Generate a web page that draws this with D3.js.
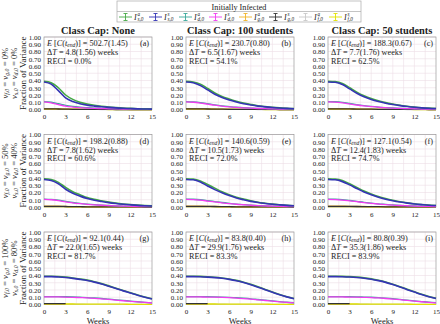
<!DOCTYPE html>
<html>
<head>
<meta charset="utf-8">
<script src="https://cdn.jsdelivr.net/npm/d3@7"></script>
<style>
  body { margin: 0; background: #fff; }
  svg text { font-family: "Liberation Serif", "DejaVu Serif", serif; fill: #222; }
</style>
</head>
<body>
<div id="chart"></div>
<script>
// weeks on the x axis
const weeks = [0, 1, 2, 3, 4, 5, 6, 7, 8, 9, 10, 11, 12, 13, 14, 15];
const xTicks = [0, 3, 6, 9, 12, 15];
const yTicks = [0, 0.1, 0.2, 0.3, 0.4, 0.5, 0.6, 0.7, 0.8, 0.9, 1.0];

const colTitles = ["Class Cap: None", "Class Cap: 100 students", "Class Cap: 50 students"];
const rowVf = ["0%", "50%", "100%"];
const rowVs = ["0%", "40%", "80%"];
const panelLetters = ["(a)", "(b)", "(c)", "(d)", "(e)", "(f)", "(g)", "(h)", "(i)"];
const expectedCases = ["502.7(1.45)", "230.7(0.80)", "188.3(0.67)", "198.2(0.88)", "140.6(0.59)", "127.1(0.54)", "92.1(0.44)", "83.8(0.40)", "80.8(0.39)"];
const deltaT = ["4.8(1.56)", "6.5(1.67)", "7.7(1.76)", "7.8(1.62)", "10.5(1.73)", "12.4(1.83)", "22.0(1.65)", "29.9(1.76)", "35.3(1.86)"];
const reci = ["0.0%", "54.1%", "62.5%", "60.6%", "72.0%", "74.7%", "81.7%", "83.3%", "83.9%"];

// series: one row per panel (a..i), one value per week
const seriesIas = [
  [0.39, 0.37, 0.30, 0.20, 0.14, 0.10, 0.075, 0.058, 0.045, 0.035, 0.027, 0.020, 0.015, 0.011, 0.008, 0.006],
  [0.39, 0.38, 0.35, 0.29, 0.23, 0.18, 0.145, 0.115, 0.09, 0.07, 0.052, 0.04, 0.03, 0.022, 0.016, 0.012],
  [0.39, 0.385, 0.36, 0.30, 0.24, 0.19, 0.15, 0.12, 0.095, 0.075, 0.058, 0.045, 0.034, 0.025, 0.019, 0.014],
  [0.39, 0.38, 0.34, 0.27, 0.21, 0.17, 0.13, 0.105, 0.085, 0.067, 0.053, 0.042, 0.033, 0.026, 0.02, 0.015],
  [0.39, 0.385, 0.36, 0.31, 0.26, 0.21, 0.17, 0.135, 0.11, 0.085, 0.066, 0.052, 0.04, 0.031, 0.024, 0.018],
  [0.39, 0.385, 0.365, 0.32, 0.27, 0.22, 0.18, 0.145, 0.117, 0.093, 0.073, 0.057, 0.045, 0.035, 0.027, 0.021],
  [0.39, 0.39, 0.386, 0.378, 0.366, 0.352, 0.336, 0.315, 0.288, 0.257, 0.225, 0.193, 0.162, 0.132, 0.104, 0.08],
  [0.39, 0.39, 0.388, 0.383, 0.376, 0.366, 0.352, 0.333, 0.308, 0.278, 0.244, 0.208, 0.172, 0.138, 0.108, 0.083],
  [0.39, 0.39, 0.388, 0.384, 0.377, 0.367, 0.353, 0.334, 0.31, 0.28, 0.246, 0.21, 0.175, 0.141, 0.11, 0.085],
];
const seriesIss = [
  [0.38, 0.35, 0.26, 0.16, 0.11, 0.08, 0.06, 0.047, 0.037, 0.029, 0.022, 0.017, 0.013, 0.009, 0.007, 0.005],
  [0.38, 0.37, 0.33, 0.27, 0.21, 0.165, 0.13, 0.103, 0.08, 0.062, 0.047, 0.036, 0.027, 0.02, 0.015, 0.011],
  [0.38, 0.375, 0.345, 0.285, 0.225, 0.175, 0.138, 0.11, 0.087, 0.068, 0.053, 0.041, 0.031, 0.023, 0.017, 0.013],
  [0.38, 0.365, 0.32, 0.245, 0.19, 0.15, 0.117, 0.094, 0.076, 0.06, 0.048, 0.038, 0.03, 0.023, 0.018, 0.014],
  [0.38, 0.375, 0.345, 0.29, 0.24, 0.195, 0.157, 0.125, 0.1, 0.078, 0.061, 0.048, 0.037, 0.029, 0.022, 0.017],
  [0.38, 0.375, 0.35, 0.305, 0.255, 0.207, 0.168, 0.135, 0.108, 0.086, 0.068, 0.053, 0.042, 0.033, 0.025, 0.02],
  [0.385, 0.385, 0.38, 0.372, 0.36, 0.346, 0.33, 0.309, 0.282, 0.251, 0.22, 0.188, 0.158, 0.128, 0.101, 0.077],
  [0.385, 0.385, 0.383, 0.378, 0.371, 0.361, 0.347, 0.328, 0.303, 0.273, 0.239, 0.203, 0.168, 0.134, 0.105, 0.08],
  [0.385, 0.385, 0.383, 0.379, 0.372, 0.362, 0.348, 0.329, 0.305, 0.275, 0.241, 0.205, 0.171, 0.137, 0.107, 0.082],
];
const seriesIad = [
  [0.11, 0.10, 0.08, 0.058, 0.043, 0.033, 0.026, 0.02, 0.016, 0.012, 0.01, 0.008, 0.006, 0.005, 0.004, 0.003],
  [0.11, 0.105, 0.095, 0.08, 0.064, 0.051, 0.041, 0.032, 0.025, 0.02, 0.015, 0.012, 0.009, 0.007, 0.005, 0.004],
  [0.11, 0.107, 0.098, 0.083, 0.067, 0.054, 0.043, 0.034, 0.027, 0.021, 0.016, 0.013, 0.01, 0.007, 0.006, 0.004],
  [0.11, 0.106, 0.095, 0.078, 0.062, 0.05, 0.04, 0.032, 0.026, 0.021, 0.016, 0.013, 0.01, 0.008, 0.006, 0.005],
  [0.11, 0.107, 0.1, 0.088, 0.075, 0.062, 0.051, 0.041, 0.033, 0.026, 0.02, 0.016, 0.012, 0.009, 0.007, 0.006],
  [0.11, 0.108, 0.102, 0.09, 0.078, 0.065, 0.054, 0.044, 0.036, 0.028, 0.022, 0.018, 0.014, 0.011, 0.008, 0.006],
  [0.11, 0.11, 0.109, 0.107, 0.104, 0.1, 0.096, 0.09, 0.083, 0.074, 0.065, 0.056, 0.047, 0.038, 0.03, 0.023],
  [0.11, 0.11, 0.109, 0.108, 0.106, 0.103, 0.099, 0.094, 0.087, 0.079, 0.069, 0.059, 0.049, 0.04, 0.031, 0.024],
  [0.11, 0.11, 0.109, 0.108, 0.106, 0.103, 0.1, 0.095, 0.088, 0.08, 0.07, 0.06, 0.05, 0.041, 0.032, 0.025],
];
const seriesIsd = [
  [0.105, 0.092, 0.068, 0.046, 0.034, 0.026, 0.02, 0.016, 0.013, 0.01, 0.008, 0.006, 0.005, 0.004, 0.003, 0.002],
  [0.105, 0.1, 0.089, 0.074, 0.059, 0.047, 0.037, 0.029, 0.023, 0.018, 0.014, 0.011, 0.008, 0.006, 0.005, 0.004],
  [0.105, 0.102, 0.092, 0.077, 0.062, 0.05, 0.04, 0.031, 0.025, 0.019, 0.015, 0.012, 0.009, 0.007, 0.005, 0.004],
  [0.105, 0.1, 0.088, 0.071, 0.057, 0.046, 0.037, 0.03, 0.024, 0.019, 0.015, 0.012, 0.009, 0.007, 0.006, 0.004],
  [0.105, 0.102, 0.094, 0.082, 0.07, 0.058, 0.047, 0.038, 0.031, 0.024, 0.019, 0.015, 0.011, 0.009, 0.007, 0.005],
  [0.105, 0.103, 0.096, 0.085, 0.073, 0.061, 0.05, 0.041, 0.033, 0.026, 0.021, 0.017, 0.013, 0.01, 0.008, 0.006],
  [0.105, 0.105, 0.104, 0.102, 0.099, 0.095, 0.091, 0.085, 0.078, 0.07, 0.061, 0.052, 0.044, 0.036, 0.028, 0.021],
  [0.105, 0.105, 0.104, 0.103, 0.101, 0.098, 0.094, 0.089, 0.082, 0.074, 0.065, 0.055, 0.046, 0.037, 0.029, 0.022],
  [0.105, 0.105, 0.104, 0.103, 0.101, 0.098, 0.095, 0.09, 0.083, 0.075, 0.066, 0.056, 0.047, 0.038, 0.03, 0.023],
];
const seriesIag = [
  [0.012, 0.011, 0.009, 0.006, 0.004, 0.003, 0.002, 0.002, 0.001, 0.001, 0.001, 0.001, 0.0, 0.0, 0.0, 0.0],
  [0.012, 0.012, 0.011, 0.009, 0.007, 0.005, 0.004, 0.003, 0.002, 0.002, 0.001, 0.001, 0.001, 0.0, 0.0, 0.0],
  [0.012, 0.012, 0.011, 0.009, 0.007, 0.006, 0.004, 0.003, 0.003, 0.002, 0.002, 0.001, 0.001, 0.001, 0.0, 0.0],
  [0.012, 0.012, 0.011, 0.008, 0.006, 0.005, 0.004, 0.003, 0.002, 0.002, 0.002, 0.001, 0.001, 0.001, 0.0, 0.0],
  [0.012, 0.012, 0.011, 0.01, 0.008, 0.006, 0.005, 0.004, 0.003, 0.003, 0.002, 0.002, 0.001, 0.001, 0.001, 0.0],
  [0.012, 0.012, 0.011, 0.01, 0.008, 0.007, 0.005, 0.004, 0.004, 0.003, 0.002, 0.002, 0.001, 0.001, 0.001, 0.001],
  [0.013, 0.013, 0.013, 0.012, null, null, null, null, null, null, null, null, null, null, null, null],
  [0.013, 0.013, 0.013, 0.012, null, null, null, null, null, null, null, null, null, null, null, null],
  [0.013, 0.013, 0.013, 0.012, null, null, null, null, null, null, null, null, null, null, null, null],
];
const seriesIsg = [
  [0.01, 0.009, 0.007, 0.005, 0.003, 0.002, 0.002, 0.001, 0.001, 0.001, 0.0, 0.0, 0.0, 0.0, 0.0, 0.0],
  [0.01, 0.01, 0.009, 0.007, 0.006, 0.004, 0.003, 0.003, 0.002, 0.002, 0.001, 0.001, 0.001, 0.0, 0.0, 0.0],
  [0.01, 0.01, 0.009, 0.008, 0.006, 0.005, 0.004, 0.003, 0.002, 0.002, 0.001, 0.001, 0.001, 0.001, 0.0, 0.0],
  [0.01, 0.01, 0.009, 0.007, 0.005, 0.004, 0.003, 0.003, 0.002, 0.002, 0.001, 0.001, 0.001, 0.001, 0.0, 0.0],
  [0.01, 0.01, 0.009, 0.008, 0.007, 0.005, 0.004, 0.003, 0.003, 0.002, 0.002, 0.001, 0.001, 0.001, 0.001, 0.0],
  [0.01, 0.01, 0.009, 0.008, 0.007, 0.006, 0.005, 0.004, 0.003, 0.002, 0.002, 0.002, 0.001, 0.001, 0.001, 0.001],
  [0.012, 0.012, 0.012, 0.011, null, null, null, null, null, null, null, null, null, null, null, null],
  [0.012, 0.012, 0.012, 0.011, null, null, null, null, null, null, null, null, null, null, null, null],
  [0.012, 0.012, 0.012, 0.011, null, null, null, null, null, null, null, null, null, null, null, null],
];
const seriesIaf = [
  [0.004, 0.004, 0.003, 0.002, 0.002, 0.001, 0.001, 0.001, 0.0, 0.0, 0.0, 0.0, 0.0, 0.0, 0.0, 0.0],
  [0.004, 0.004, 0.004, 0.003, 0.002, 0.002, 0.001, 0.001, 0.001, 0.001, 0.0, 0.0, 0.0, 0.0, 0.0, 0.0],
  [0.004, 0.004, 0.004, 0.003, 0.003, 0.002, 0.002, 0.001, 0.001, 0.001, 0.001, 0.0, 0.0, 0.0, 0.0, 0.0],
  [0.004, 0.004, 0.004, 0.003, 0.002, 0.002, 0.001, 0.001, 0.001, 0.001, 0.0, 0.0, 0.0, 0.0, 0.0, 0.0],
  [0.004, 0.004, 0.004, 0.003, 0.003, 0.002, 0.002, 0.001, 0.001, 0.001, 0.001, 0.0, 0.0, 0.0, 0.0, 0.0],
  [0.004, 0.004, 0.004, 0.003, 0.003, 0.002, 0.002, 0.002, 0.001, 0.001, 0.001, 0.001, 0.0, 0.0, 0.0, 0.0],
  [0.004, 0.004, 0.004, 0.004, 0.004, 0.004, 0.003, 0.003, 0.003, 0.003, 0.002, 0.002, 0.002, 0.001, 0.001, 0.001],
  [0.004, 0.004, 0.004, 0.004, 0.004, 0.004, 0.003, 0.003, 0.003, 0.003, 0.002, 0.002, 0.002, 0.001, 0.001, 0.001],
  [0.004, 0.004, 0.004, 0.004, 0.004, 0.004, 0.003, 0.003, 0.003, 0.003, 0.002, 0.002, 0.002, 0.001, 0.001, 0.001],
];
const seriesIsf = [
  [0.006, 0.006, 0.005, 0.003, 0.002, 0.002, 0.001, 0.001, 0.001, 0.0, 0.0, 0.0, 0.0, 0.0, 0.0, 0.0],
  [0.006, 0.006, 0.005, 0.004, 0.003, 0.003, 0.002, 0.002, 0.001, 0.001, 0.001, 0.0, 0.0, 0.0, 0.0, 0.0],
  [0.006, 0.006, 0.006, 0.005, 0.004, 0.003, 0.002, 0.002, 0.001, 0.001, 0.001, 0.001, 0.0, 0.0, 0.0, 0.0],
  [0.006, 0.006, 0.005, 0.004, 0.003, 0.003, 0.002, 0.002, 0.001, 0.001, 0.001, 0.001, 0.0, 0.0, 0.0, 0.0],
  [0.006, 0.006, 0.006, 0.005, 0.004, 0.003, 0.003, 0.002, 0.002, 0.001, 0.001, 0.001, 0.001, 0.0, 0.0, 0.0],
  [0.006, 0.006, 0.006, 0.005, 0.004, 0.004, 0.003, 0.002, 0.002, 0.002, 0.001, 0.001, 0.001, 0.001, 0.0, 0.0],
  [0.007, 0.007, 0.007, 0.007, 0.007, 0.006, 0.006, 0.006, 0.005, 0.005, 0.004, 0.004, 0.003, 0.003, 0.002, 0.002],
  [0.007, 0.007, 0.007, 0.007, 0.007, 0.006, 0.006, 0.006, 0.005, 0.005, 0.004, 0.004, 0.003, 0.003, 0.002, 0.002],
  [0.007, 0.007, 0.007, 0.007, 0.007, 0.006, 0.006, 0.006, 0.005, 0.005, 0.004, 0.004, 0.003, 0.003, 0.002, 0.002],
];

// legend entries: [superscript, subscript, colour, series]
const legendItems = [
  ["a", "s,0", "#45a845", seriesIas],
  ["s", "s,0", "#3434b4", seriesIss],
  ["a", "d,0", "#3aa89a", seriesIad],
  ["s", "d,0", "#f03cf0", seriesIsd],
  ["a", "g,0", "#f0b429", seriesIag],
  ["s", "g,0", "#333333", seriesIsg],
  ["a", "f,0", "#c8c8c8", seriesIaf],
  ["s", "f,0", "#e2e200", seriesIsf],
];
// draw order (later ones on top)
const drawOrder = [6, 7, 4, 5, 2, 3, 0, 1];

const W = 440, H = 324;
const colLeft = [44, 186, 328], plotW = 108;
const rowTop = [37, 134.5, 232], plotH = 72.5;

const svg = d3.select("#chart").append("svg").attr("width", W).attr("height", H);

// text with italic / subscript pieces; the shift of a subscript is undone on the next piece
function rich(sel, parts, size) {
  let back = 0;
  parts.forEach(([t, st]) => {
    const ts = sel.append("tspan").text(t).style("font-size", size + "px");
    let dy = back;
    back = 0;
    if (st === "i") ts.style("font-style", "italic");
    if (st === "sub") {
      ts.style("font-style", "italic").style("font-size", size * 0.68 + "px");
      dy += size * 0.18;
      back = -size * 0.18;
    }
    if (dy !== 0) ts.attr("dy", dy);
  });
  return sel;
}

const x = d3.scaleLinear().domain([0, 15]).range([0, plotW]);
const y = d3.scaleLinear().domain([0, 1]).range([plotH, 0]);

for (let r = 0; r < 3; r++) {
  for (let c = 0; c < 3; c++) {
    const p = r * 3 + c;
    const g = svg.append("g").attr("transform", `translate(${colLeft[c]},${rowTop[r]})`);

    // grid
    g.append("g")
      .selectAll("line")
      .data(yTicks)
      .join("line")
      .attr("x1", 0).attr("x2", plotW)
      .attr("y1", (d) => y(d)).attr("y2", (d) => y(d))
      .attr("stroke", "#eddde6").attr("stroke-width", 0.6);
    g.append("g")
      .selectAll("line")
      .data([1.5, 3, 4.5, 6, 7.5, 9, 10.5, 12, 13.5])
      .join("line")
      .attr("y1", 0).attr("y2", plotH)
      .attr("x1", (d) => x(d)).attr("x2", (d) => x(d))
      .attr("stroke", "#eddde6").attr("stroke-width", 0.6);

    // axes
    const ya = g.append("g").call(d3.axisLeft(y).tickValues(yTicks).tickFormat(d3.format(".2f")).tickSize(0).tickPadding(3));
    const xa = g.append("g").attr("transform", `translate(0,${plotH})`)
      .call(d3.axisBottom(x).tickValues(xTicks).tickSize(0).tickPadding(5));
    [ya, xa].forEach((a) => {
      a.attr("font-family", null).attr("font-size", null);
      a.select(".domain").remove();
      a.selectAll("text").style("font-size", "7px").attr("fill", "#333");
    });

    // frame
    g.append("rect").attr("width", plotW).attr("height", plotH)
      .attr("fill", "none").attr("stroke", "#9a9a9a").attr("stroke-width", 0.7);

    // lines
    const line = d3.line()
      .defined((d) => d != null)
      .x((d, i) => x(weeks[i]))
      .y((d) => y(d))
      .curve(d3.curveMonotoneX);
    drawOrder.forEach((k) => {
      const item = legendItems[k];
      g.append("path")
        .attr("d", line(item[3][p]))
        .attr("fill", "none")
        .attr("stroke", item[2])
        .attr("stroke-width", k < 2 ? 1.6 : 1.3);
    });

    // annotations
    const fs = 8.2;
    rich(g.append("text").attr("x", 3).attr("y", 9),
      [["E", "i"], [" [", ""], ["C", "i"], ["(", ""], ["t", "i"], ["end", "sub"], [")] = " + expectedCases[p], ""]], fs);
    rich(g.append("text").attr("x", 3).attr("y", 18.2),
      [["\u0394", ""], ["T", "i"], [" = " + deltaT[p] + " weeks", ""]], fs);
    g.append("text").attr("x", 3).attr("y", 26.5).style("font-size", fs + "px").text("RECI = " + reci[p]);
    g.append("text").attr("x", plotW - 3).attr("y", 9).attr("text-anchor", "end")
      .style("font-size", "8.2px").text(panelLetters[p]);

    if (r === 2) {
      svg.append("text").attr("x", colLeft[c] + plotW / 2).attr("y", rowTop[r] + plotH + 19)
        .attr("text-anchor", "middle").style("font-size", "8.6px").text("Weeks");
    }
  }
}

// column titles
colTitles.forEach((t, c) => {
  svg.append("text").attr("x", colLeft[c] + plotW / 2).attr("y", 33.5)
    .attr("text-anchor", "middle").style("font-size", "10.4px").style("font-weight", "bold").text(t);
});

// row labels (rotated)
for (let r = 0; r < 3; r++) {
  const cy = rowTop[r] + plotH / 2;
  rich(svg.append("text").attr("transform", `translate(7.5,${cy}) rotate(-90)`).attr("text-anchor", "middle"),
    [["v", "i"], ["f,0", "sub"], [" = ", ""], ["v", "i"], ["g,0", "sub"], [" = " + rowVf[r], ""]], 8.6);
  rich(svg.append("text").attr("transform", `translate(16.5,${cy}) rotate(-90)`).attr("text-anchor", "middle"),
    [["v", "i"], ["s,0", "sub"], [" = ", ""], ["v", "i"], ["d,0", "sub"], [" = " + rowVs[r], ""]], 8.6);
  svg.append("text").attr("transform", `translate(26,${cy}) rotate(-90)`).attr("text-anchor", "middle")
    .style("font-size", "9px").text("Fraction of Variance");
}

// legend
const lg = svg.append("g").attr("transform", "translate(117,1)");
const lgW = 244;
lg.append("rect").attr("width", lgW).attr("height", 21).attr("fill", "#fff").attr("stroke", "#aaa").attr("stroke-width", 0.7);
lg.append("line").attr("x1", 0).attr("x2", lgW).attr("y1", 10.5).attr("y2", 10.5).attr("stroke", "#aaa").attr("stroke-width", 0.7);
lg.append("text").attr("x", lgW / 2).attr("y", 8.5).attr("text-anchor", "middle").style("font-size", "8.2px").text("Initially Infected");
legendItems.forEach((item, i) => {
  const gx = 2 + i * 30;
  const cy = 16;
  const e = lg.append("g").attr("transform", `translate(${gx},0)`);
  e.append("line").attr("x1", 0).attr("x2", 13).attr("y1", cy).attr("y2", cy).attr("stroke", item[2]).attr("stroke-width", 0.9);
  e.append("line").attr("x1", 6.5).attr("x2", 6.5).attr("y1", cy - 3.5).attr("y2", cy + 3.5).attr("stroke", item[2]).attr("stroke-width", 0.9);
  [cy - 3.5, cy + 3.5].forEach((yy) =>
    e.append("line").attr("x1", 4.5).attr("x2", 8.5).attr("y1", yy).attr("y2", yy).attr("stroke", item[2]).attr("stroke-width", 0.9));
  e.append("text").attr("x", 15).attr("y", cy + 2.8).style("font-size", "8px").style("font-style", "italic").text("I");
  e.append("text").attr("x", 18.5).attr("y", cy - 0.8).style("font-size", "5.2px").style("font-style", "italic").text(item[0]);
  e.append("text").attr("x", 18.5).attr("y", cy + 4.2).style("font-size", "5.2px").style("font-style", "italic").text(item[1]);
});
</script>
</body>
</html>
